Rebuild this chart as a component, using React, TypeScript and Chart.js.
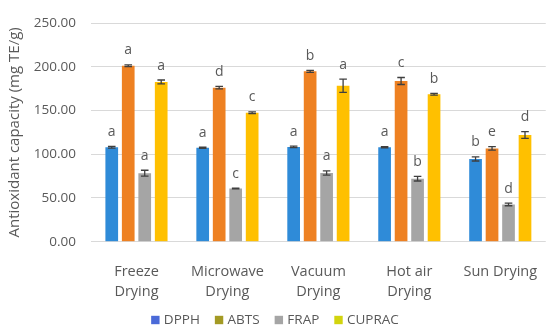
import React, { useEffect, useRef } from "react";
import { Chart, registerables } from "chart.js";

Chart.register(...registerables);

const categories: (string | string[])[] = [
  ["Freeze", "Drying"],
  ["Microwave", "Drying"],
  ["Vacuum", "Drying"],
  ["Hot air", "Drying"],
  "Sun Drying",
];

const seriesNames = ["DPPH", "ABTS", "FRAP", "CUPRAC"];

const dpph = [108.1, 107.4, 108.4, 108.0, 94.7];
const abts = [201.3, 176.2, 194.8, 183.8, 106.7];
const frap = [78.3, 60.8, 78.6, 72.1, 42.6];
const cuprac = [182.7, 147.4, 178.4, 168.6, 122.0];

const dpphErr = [1.0, 0.6, 0.8, 0.6, 2.4];
const abtsErr = [1.0, 1.5, 1.2, 4.0, 2.0];
const frapErr = [3.4, 0.5, 2.5, 2.7, 1.5];
const cupracErr = [2.2, 1.0, 7.6, 1.0, 3.8];

const dpphLetters = ["a", "a", "a", "a", "b"];
const abtsLetters = ["a", "d", "b", "c", "e"];
const frapLetters = ["a", "c", "a", "b", "d"];
const cupracLetters = ["a", "c", "a", "b", "d"];

const yTicks = [0, 50, 100, 150, 200, 250];

const barColors = ["#2F8BD8", "#EE8122", "#A5A5A5", "#FFC000"];
const legendColors = ["#4A6AD8", "#A39A24", "#A5A5A5", "#D2D40E"];

const seriesValues = [dpph, abts, frap, cuprac];
const seriesErrors = [dpphErr, abtsErr, frapErr, cupracErr];
const seriesLetters = [dpphLetters, abtsLetters, frapLetters, cupracLetters];

const FONT = "'Open Sans', 'Noto Sans', sans-serif";
const TEXT = "#595959";

const errorPlugin = {
  id: "errorLetters",
  afterDatasetsDraw(chart: any) {
    const ctx = chart.ctx;
    const y = chart.scales.y;
    ctx.save();
    chart.data.datasets.forEach((ds: any, i: number) => {
      const meta = chart.getDatasetMeta(i);
      meta.data.forEach((el: any, j: number) => {
        const v = ds.data[j];
        const e = ds.errors[j];
        const top = y.getPixelForValue(v + e);
        const bot = y.getPixelForValue(v - e);
        const x = el.x;
        ctx.strokeStyle = "#3F3F3F";
        ctx.lineWidth = 1.3;
        ctx.beginPath();
        ctx.moveTo(x, top);
        ctx.lineTo(x, bot);
        ctx.moveTo(x - 3.8, top);
        ctx.lineTo(x + 3.8, top);
        ctx.moveTo(x - 3.8, bot);
        ctx.lineTo(x + 3.8, bot);
        ctx.stroke();
        ctx.fillStyle = TEXT;
        ctx.font = `14px ${FONT}`;
        ctx.textAlign = "center";
        ctx.textBaseline = "alphabetic";
        ctx.fillText(ds.letters[j], x, top - 10.5);
      });
    });
    ctx.restore();
  },
};

const legendPlugin = {
  id: "customLegend",
  afterDraw(chart: any) {
    const ctx = chart.ctx;
    ctx.save();
    ctx.font = `13.5px ${FONT}`;
    const box = 8.4;
    const gapText = 4.3;
    const gapItem = 15;
    const widths = chart.data.datasets.map((d: any) => ctx.measureText(d.label).width);
    let total = 0;
    widths.forEach((w: number, i: number) => {
      total += box + gapText + w + (i < widths.length - 1 ? gapItem : 0);
    });
    let x = 275 - total / 2;
    const cy = 320;
    chart.data.datasets.forEach((d: any, i: number) => {
      ctx.fillStyle = d.legendColor;
      ctx.fillRect(x, cy - box / 2, box, box);
      x += box + gapText;
      ctx.fillStyle = TEXT;
      ctx.textAlign = "left";
      ctx.textBaseline = "middle";
      ctx.fillText(d.label, x, cy + 0.5);
      x += widths[i] + gapItem;
    });
    ctx.restore();
  },
};

export default function App() {
  const ref = useRef<HTMLCanvasElement>(null);
  useEffect(() => {
    if (!ref.current) return;
    const chart = new Chart(ref.current, {
      type: "bar",
      data: {
        labels: categories,
        datasets: seriesNames.map((name, i) => ({
          label: name,
          data: seriesValues[i],
          errors: seriesErrors[i],
          letters: seriesLetters[i],
          legendColor: legendColors[i],
          backgroundColor: barColors[i],
          borderWidth: 0,
          barPercentage: 0.77,
          categoryPercentage: 0.725,
        })) as any,
      },
      options: {
        responsive: false,
        animation: false,
        layout: { padding: { top: 12.7, right: 4, left: 0, bottom: 0 } },
        plugins: {
          legend: { display: false },
          tooltip: { enabled: false },
        },
        scales: {
          x: {
            grid: { display: false },
            border: { display: false },
            ticks: {
              color: TEXT,
              font: { family: FONT, size: 14.5, lineHeight: 1.35 },
              padding: 12.5,
              maxRotation: 0,
              autoSkip: false,
            },
            afterFit(scale: any) {
              scale.height = 331 - 241.7;
            },
          },
          y: {
            min: 0,
            max: 250,
            afterBuildTicks(scale: any) {
              scale.ticks = yTicks.map((v) => ({ value: v }));
            },
            grid: { color: "#D9D9D9", drawTicks: false, lineWidth: 1 },
            border: { display: false },
            ticks: {
              color: TEXT,
              font: { family: FONT, size: 13.5 },
              padding: 15,
              callback: (v: any) => Number(v).toFixed(2),
            },
            title: {
              display: true,
              text: "Antioxidant capacity (mg TE/g)",
              color: TEXT,
              font: { family: FONT, size: 15 },
              padding: { top: 6, bottom: 0 },
            },
            afterFit(scale: any) {
              scale.width = 91;
            },
          },
        },
      },
      plugins: [errorPlugin, legendPlugin],
    });
    return () => chart.destroy();
  }, []);
  return (
    <div style={{ position: "absolute", left: 0, top: 0, width: 550, height: 331, background: "#fff" }}>
      <canvas ref={ref} width={550} height={331} />
    </div>
  );
}
